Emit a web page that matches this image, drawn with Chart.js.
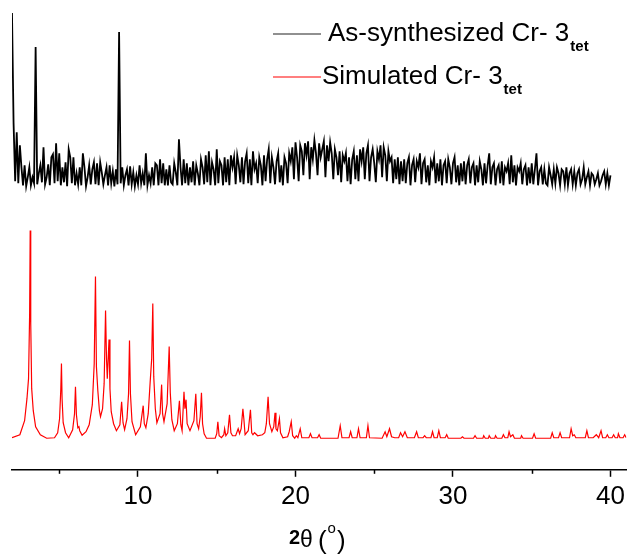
<!DOCTYPE html>
<html>
<head>
<meta charset="utf-8">
<script src="https://cdn.jsdelivr.net/npm/chart.js@4"></script>
<style>
  body { margin: 0; background: #fff; }
  #wrap { width: 629px; height: 554px; }
</style>
</head>
<body>
<div id="wrap"><canvas id="chart" width="629" height="554"></canvas></div>
<script>
// As-synthesized pattern, 2.0 .. 40.0 deg, step 0.1 (heights above its baseline)
const expStart = 2.0;
const expStep = 0.1;
const expCounts = [
  174, 64, 6, 55, 4, 42, 20, 2, 22, 1,
  10, 20, 2, 10, 4, 140, 3, 14, 22, 5,
  40, 3, 10, 23, 2, 30, 33, 4, 44, 6,
  34, 2, 20, 5, 25, 1, 38, 30, 4, 30,
  2, 14, 3, 20, 2, 34, 20, 1, 10, 22,
  3, 18, 25, 3, 24, 2, 25, 15, 3, 12,
  20, 2, 22, 4, 16, 1, 18, 3, 155, 4,
  20, 2, 12, 18, 2, 21, 3, 15, 1, 12,
  3, 22, 4, 14, 2, 34, 2, 12, 4, 20,
  2, 24, 22, 2, 28, 4, 24, 2, 18, 2,
  22, 5, 3, 24, 15, 2, 48, 20, 2, 28,
  4, 24, 2, 20, 5, 26, 2, 22, 14, 2,
  28, 20, 3, 32, 5, 36, 2, 25, 18, 2,
  38, 4, 26, 22, 2, 30, 5, 28, 2, 32,
  20, 30, 3, 32, 22, 5, 30, 3, 26, 34,
  4, 28, 2, 36, 18, 24, 4, 30, 22, 2,
  32, 6, 28, 38, 4, 30, 20, 3, 26, 34,
  5, 22, 2, 30, 24, 4, 34, 26, 40, 8,
  45, 30, 6, 42, 36, 12, 44, 32, 46, 8,
  40, 28, 47, 34, 12, 44, 30, 38, 46, 10,
  42, 26, 45, 34, 8, 38, 30, 12, 36, 5,
  32, 26, 34, 6, 30, 3, 28, 36, 8, 32,
  6, 38, 26, 40, 8, 34, 42, 6, 30, 38,
  24, 5, 36, 28, 42, 10, 40, 32, 6, 36,
  26, 30, 4, 28, 8, 30, 3, 26, 6, 28,
  4, 24, 30, 2, 22, 28, 5, 26, 20, 34,
  3, 24, 28, 5, 22, 2, 26, 20, 30, 4,
  24, 6, 28, 2, 22, 26, 4, 28, 20, 3,
  24, 30, 5, 22, 2, 24, 6, 26, 3, 22,
  28, 4, 20, 24, 2, 22, 5, 26, 18, 2,
  24, 4, 22, 34, 3, 20, 24, 2, 18, 22,
  4, 26, 2, 20, 16, 24, 3, 32, 5, 22,
  2, 20, 16, 24, 3, 18, 22, 2, 20, 4,
  24, 3, 18, 34, 2, 16, 20, 3, 18, 4,
  2, 20, 12, 3, 18, 4, 20, 14, 2, 18,
  16, 3, 20, 2, 14, 18, 3, 16, 2, 14,
  18, 3, 8, 20, 3, 10, 16, 2, 14, 12,
  3, 8, 14, 2, 6, 12, 16, 3, 14, 2,
  12
];

// Simulated pattern, peak tops and valleys
const simTheta = [
  2.0, 2.5, 2.8, 2.95, 3.05, 3.12, 3.155, 3.19, 3.25, 3.35, 3.5, 3.8, 4.2, 4.7, 4.9, 5.02, 5.1, 5.14, 5.18, 5.25,
  5.4, 5.6, 5.85, 5.97, 6.03, 6.09, 6.18, 6.25, 6.3, 6.45, 6.7, 6.9, 7.1, 7.22, 7.3, 7.36, 7.45, 7.55, 7.62, 7.75,
  7.85, 7.94, 8.0, 8.05, 8.16, 8.22, 8.3, 8.45, 8.63, 8.85, 8.96, 9.05, 9.15, 9.3, 9.4, 9.46, 9.52, 9.62, 9.85, 10.15,
  10.33, 10.4, 10.5, 10.65, 10.77, 10.87, 10.94, 11.0, 11.1, 11.2, 11.4, 11.5, 11.56, 11.65, 11.85, 11.98, 12.05, 12.15, 12.3, 12.5,
  12.63, 12.72, 12.8, 12.92, 12.98, 13.05, 13.12, 13.3, 13.55, 13.67, 13.75, 13.85, 13.95, 14.03, 14.1, 14.2, 14.35, 14.9, 15.0, 15.07,
  15.15, 15.3, 15.45, 15.5, 15.58, 15.7, 15.81, 15.9, 16.0, 16.2, 16.36, 16.45, 16.55, 16.66, 16.72, 16.8, 17.0, 17.14, 17.22, 17.3,
  17.4, 17.6, 17.9, 18.05, 18.15, 18.26, 18.35, 18.5, 18.62, 18.7, 18.76, 18.85, 18.98, 19.05, 19.2, 19.5, 19.6, 19.73, 19.82, 19.95,
  20.05, 20.15, 20.3, 20.4, 20.85, 20.95, 21.05, 21.4, 21.5, 21.6, 22.7, 22.84, 22.95, 23.4, 23.5, 23.6, 23.9, 24.0, 24.1, 24.5,
  24.6, 24.7, 25.5, 25.69, 25.8, 25.97, 26.1, 26.3, 26.55, 26.67, 26.8, 26.95, 27.1, 27.55, 27.69, 27.8, 28.1, 28.2, 28.3, 28.6,
  28.7, 28.8, 29.0, 29.1, 29.2, 29.5, 29.6, 29.7, 30.5, 30.6, 30.7, 31.3, 31.4, 31.5, 31.9, 31.95, 32.05, 32.25, 32.3, 32.4,
  32.65, 32.7, 32.8, 33.1, 33.2, 33.3, 33.48, 33.56, 33.65, 33.8, 33.9, 34.3, 34.35, 34.45, 35.05, 35.15, 35.25, 36.2, 36.3, 36.4,
  36.7, 36.8, 36.9, 37.4, 37.5, 37.6, 37.7, 37.8, 38.4, 38.5, 38.6, 38.9, 39.1, 39.25, 39.4, 39.5, 39.7, 39.8, 39.9, 40.1,
  40.2, 40.3, 40.45, 40.5, 40.6, 40.8, 40.9, 41.0
];
const simCounts = [
  1, 4, 18, 40, 60, 125, 208, 115, 50, 28, 12, 4, 0.5, 1, 6, 20, 50, 75, 40, 16,
  6, 1, 9, 25, 52, 24, 11, 12, 8, 3.5, 7, 14, 34, 75, 162, 72, 48, 28, 22, 30,
  55, 128, 80, 60, 99, 50, 27, 15, 8, 14, 37, 16, 9, 20, 45, 98, 45, 17, 4, 12,
  33, 15, 11, 25, 56, 80, 135, 62, 30, 16, 25, 54, 25, 17, 35, 92, 46, 19, 8, 15,
  38, 14, 8, 47, 30, 39, 15, 8, 18, 45, 15, 10, 22, 46, 15, 5, 0.5, 0.5, 5, 17,
  3, 1, 4, 10, 3, 6, 24, 6, 3, 3, 10, 5, 10, 30, 20, 4, 8, 29, 6, 4,
  6, 3, 4, 6, 15, 42, 15, 7, 12, 26, 10, 8, 20, 6, 1, 2, 7, 17, 3, 0.5,
  3, 1, 10, 1, 1, 5, 1, 1, 4, 0.5, 0.5, 13, 1, 1, 7, 1, 1, 10, 1, 1,
  13, 1, 0.5, 7, 2, 10, 2, 1, 1, 6, 2, 7, 1, 1, 7, 1, 1, 3, 1, 1,
  7, 1, 1, 8, 1, 1, 4, 0.5, 0.5, 2, 0.5, 0.5, 3, 0.5, 0.5, 3, 0.5, 0.5, 3, 0.5,
  0.5, 3, 0.5, 0.5, 4, 1, 1, 7, 2, 4, 0.5, 0.5, 3, 0.5, 0.5, 5, 0.5, 0.5, 6, 1,
  1, 6, 1, 1, 10, 3, 4, 1, 1, 8, 1, 1, 4, 1, 8, 1, 1, 4, 1, 1,
  4, 1, 1, 5, 1, 1, 4, 1
];

// vertical offsets that stack the two patterns
const expOffset = 282;
const simOffset = 31;

const expData = expCounts.map((v, i) => ({ x: +(expStart + i * expStep).toFixed(2), y: v + expOffset }));
const simData = simTheta.map((t, i) => ({ x: t, y: simCounts[i] + simOffset }));

const FONT = '"Liberation Sans", Arial, sans-serif';

const overlay = {
  id: "overlay",
  afterDraw(chart) {
    const ctx = chart.ctx;
    const xs = chart.scales.x;
    const axisY = chart.chartArea.bottom;
    ctx.save();
    // minor ticks
    ctx.strokeStyle = "#000";
    ctx.lineWidth = 1.5;
    for (const v of [5, 15, 25, 35]) {
      const px = Math.round(xs.getPixelForValue(v)) + 0.5;
      ctx.beginPath();
      ctx.moveTo(px, axisY);
      ctx.lineTo(px, axisY + 4);
      ctx.stroke();
    }

    // legend
    const items = [
      { color: "#222", y: 34, textX: 328, base: 41, label: "As-synthesized Cr- 3" },
      { color: "#ff0000", y: 77, textX: 322, base: 84, label: "Simulated Cr- 3" },
    ];
    ctx.textBaseline = "alphabetic";
    ctx.textAlign = "left";
    for (const it of items) {
      ctx.strokeStyle = it.color;
      ctx.lineWidth = 1.2;
      ctx.beginPath();
      ctx.moveTo(273, it.y);
      ctx.lineTo(321, it.y);
      ctx.stroke();
      ctx.fillStyle = "#000";
      ctx.font = "26px " + FONT;
      ctx.fillText(it.label, it.textX, it.base);
      const w = ctx.measureText(it.label).width;
      ctx.font = "bold 15px " + FONT;
      ctx.fillText("tet", it.textX + w + 1, it.base + 10);
    }

    // axis title
    let x = 289;
    const base = 544;
    ctx.font = "bold 20px " + FONT;
    ctx.fillText("2", x, base);
    x += ctx.measureText("2").width;
    ctx.font = "23px " + FONT;
    ctx.fillText("θ", x, base + 3);
    x += ctx.measureText("θ").width + 5;
    ctx.font = "26px " + FONT;
    ctx.fillText("(", x, base + 5);
    x += ctx.measureText("(").width + 1;
    ctx.font = "15px " + FONT;
    ctx.fillText("o", x, base - 11);
    x += ctx.measureText("o").width + 1;
    ctx.font = "26px " + FONT;
    ctx.fillText(")", x, base + 5);
    ctx.restore();
  },
};

new Chart(document.getElementById("chart").getContext("2d"), {
  type: "line",
  data: {
    datasets: [
      {
        label: "As-synthesized Cr-3tet",
        data: expData,
        borderColor: "#000",
        borderWidth: 1.8,
        pointRadius: 0,
        tension: 0,
      },
      {
        label: "Simulated Cr-3tet",
        data: simData,
        borderColor: "#ff0000",
        borderWidth: 1.2,
        pointRadius: 0,
        tension: 0,
      },
    ],
  },
  options: {
    responsive: false,
    animation: false,
    layout: { padding: { left: 12, right: 2, top: 10, bottom: 38 } },
    plugins: { legend: { display: false }, tooltip: { enabled: false } },
    scales: {
      x: {
        type: "linear",
        min: 2,
        max: 41,
        border: { display: true, color: "#000", width: 1.5 },
        grid: { drawOnChartArea: false, tickLength: 7, tickColor: "#000", tickWidth: 1.5 },
        ticks: {
          stepSize: 10,
          includeBounds: false,
          padding: 4,
          color: "#000",
          font: { family: FONT, size: 26 },
          maxRotation: 0,
        },
      },
      y: {
        display: false,
        min: 0,
        max: 459,
      },
    },
  },
  plugins: [overlay],
});
</script>
</body>
</html>
